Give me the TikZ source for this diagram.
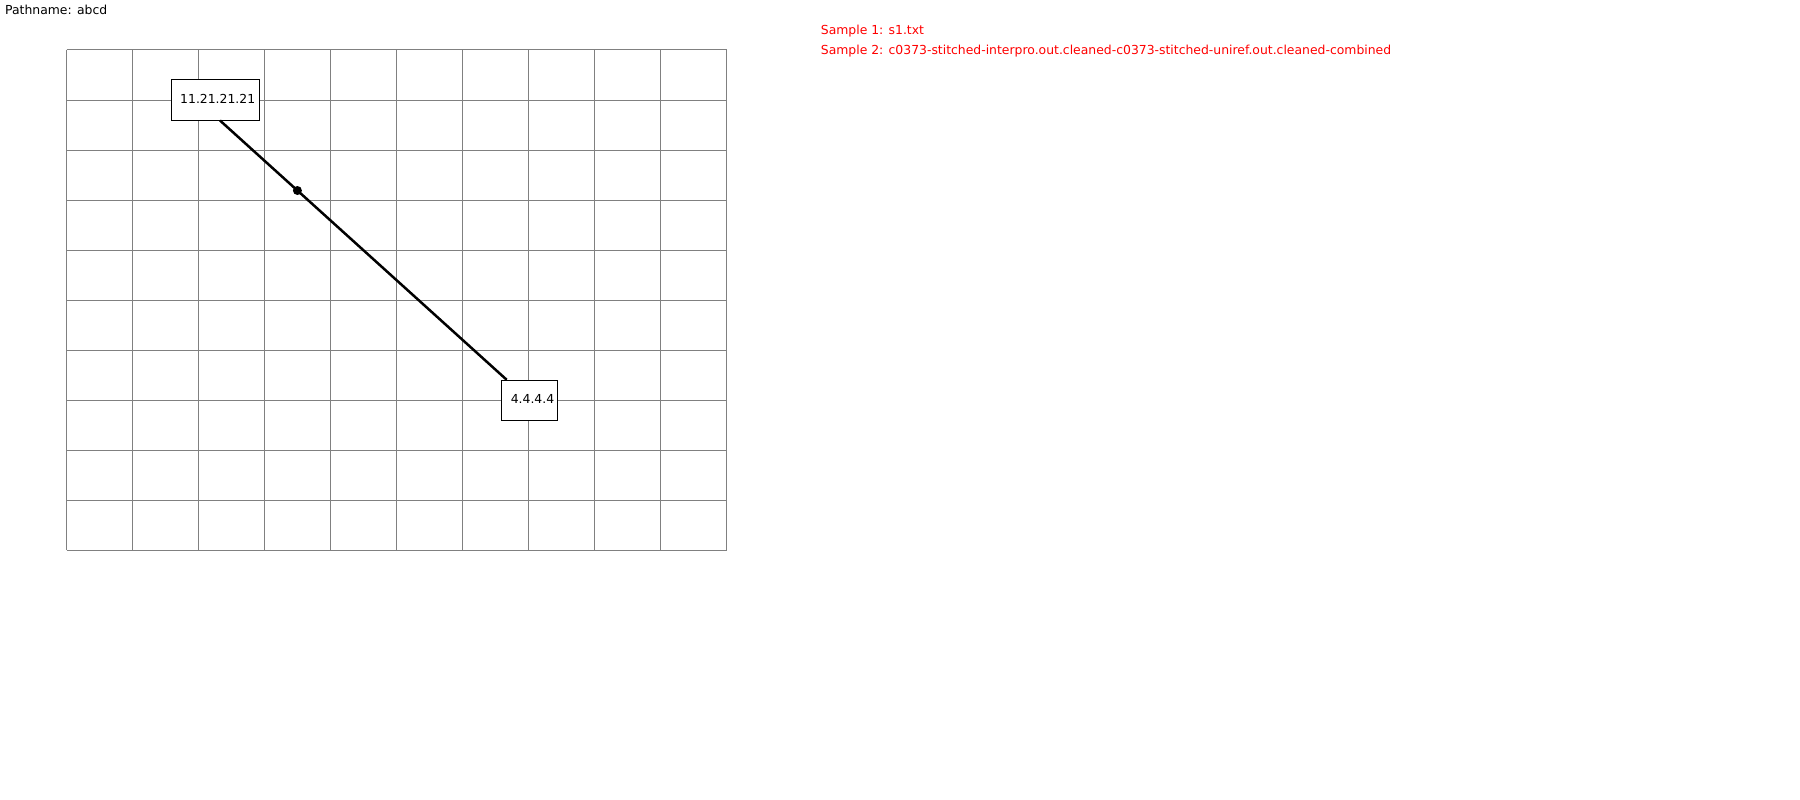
\documentclass[tikz,border=0pt]{standalone}
\usepackage{fontspec}
\setmainfont{DejaVu Sans}
\begin{document}
\begin{tikzpicture}[x=1pt,y=-1pt,
  gridline/.style={draw={rgb,255:red,128;green,128;blue,128},line width=1pt},
  lbl/.style={anchor=base west,inner sep=0pt,font=\fontsize{12.4pt}{14pt}\selectfont},
  redlbl/.style={lbl,text={rgb,255:red,255;green,0;blue,0}},
  ipbox/.style={draw=black,line width=1pt,fill=white,inner sep=0pt,minimum height=40pt,font=\fontsize{12.4pt}{14pt}\selectfont},
  link/.style={draw=black,line width=2.5pt},
  dotstyle/.style={circle,fill=black,inner sep=0pt,minimum size=9pt}]
\useasboundingbox (0,0) rectangle (1800,800);
\fill[white] (0,0) rectangle (1800,800);
\node[lbl] (path) at (5,15) {Pathname: abcd};
\node[redlbl] (s1) at (820.7,35) {Sample 1: s1.txt};
\node[redlbl] (s2) at (820.7,54.3) {Sample 2: c0373-stitched-interpro.out.cleaned-c0373-stitched-uniref.out.cleaned-combined};
\foreach \i in {0,...,10} \draw[gridline] ({66.7+66*\i},50) -- ({66.7+66*\i},550.3);
\foreach \j in {0,...,10} \draw[gridline] (66.7,{50+50*\j}) -- (726.7,{50+50*\j});
\node[ipbox,minimum width=88.3pt] (b1) at (215.2,100) {\hspace{5pt}\raisebox{2.8pt}{11.21.21.21}};
\node[ipbox,minimum width=56.4pt] (b2) at (529.5,400.3) {\hspace{6pt}\raisebox{3pt}{4.4.4.4}};
\draw[link] ([xshift=4.8pt]b1.south) -- node[pos=0.27,dotstyle] (d) {} ([xshift=-22.8pt]b2.north);
\end{tikzpicture}
\end{document}
